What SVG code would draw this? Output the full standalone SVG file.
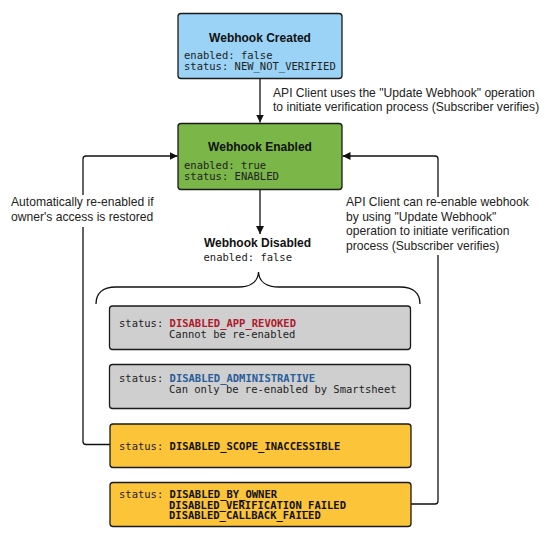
<svg xmlns="http://www.w3.org/2000/svg" width="550" height="535" viewBox="0 0 550 535">
<style>
.box{stroke:#1a1a1a;stroke-width:1.3}
.title{font-family:"Liberation Sans",Arial,sans-serif;font-weight:bold;font-size:12px;fill:#111}
.mono{font-family:"DejaVu Sans Mono","Liberation Mono",monospace;font-size:10.5px;fill:#222}
.monob{font-family:"DejaVu Sans Mono","Liberation Mono",monospace;font-size:10.5px;font-weight:bold}
.lbl{font-family:"Liberation Sans",Arial,sans-serif;font-size:12.1px;fill:#222}
.conn{fill:none;stroke:#111;stroke-width:1.3}
</style>
<defs>
<marker id="arr" viewBox="0 0 10 10" refX="10" refY="5" markerWidth="8" markerHeight="8" markerUnits="userSpaceOnUse" orient="auto">
<path d="M0,0 L10,5 L0,10 z" fill="#111"/>
</marker>
</defs>
<rect width="550" height="535" fill="#fff"/>
<g id="connectors">
<path class="conn" d="M260,78.5 V122.5" marker-end="url(#arr)"/>
<path class="conn" d="M260,189.5 V234" marker-end="url(#arr)"/>
<path class="conn" d="M110,444.5 H86 a3,3 0 0 1 -3,-3 V159 a3,3 0 0 1 3,-3 H177.5" marker-end="url(#arr)"/>
<path class="conn" d="M411,504 H435 a3,3 0 0 0 3,-3 V159 a3,3 0 0 0 -3,-3 H342.5" marker-end="url(#arr)"/>
<path class="conn" d="M96,304 C96,294 102,287 116,287 H238 C250,287 258,282 258.5,272 C259,282 267,287 279,287 H400 C414,287 420,294 420,304"/>
<rect x="8" y="195" width="150" height="32" fill="#fff"/>
<rect x="343" y="197" width="168" height="58" fill="#fff"/>
<text class="lbl" x="273" y="97">API Client uses the "Update Webhook" operation</text>
<text class="lbl" x="273" y="111">to initiate verification process (Subscriber verifies)</text>
<text class="lbl" x="11" y="206">Automatically re-enabled if</text>
<text class="lbl" x="11" y="221">owner's access is restored</text>
<text class="lbl" x="346" y="206">API Client can re-enable webhook</text>
<text class="lbl" x="346" y="220.5">by using "Update Webhook"</text>
<text class="lbl" x="346" y="235">operation to initiate verification</text>
<text class="lbl" x="346" y="250">process (Subscriber verifies)</text>
</g>
<g id="created">
<rect class="box" x="178" y="13.5" width="164" height="65" rx="3" fill="#9ad3f5"/>
<text class="title" x="260" y="42" text-anchor="middle">Webhook Created</text>
<text class="mono" x="184" y="58.5">enabled: false</text>
<text class="mono" x="184" y="69.5">status: NEW_NOT_VERIFIED</text>
</g>
<g id="enabled">
<rect class="box" x="178" y="123.5" width="164" height="66" rx="3" fill="#7ab648"/>
<text class="title" x="260" y="151" text-anchor="middle">Webhook Enabled</text>
<text class="mono" x="184" y="169">enabled: true</text>
<text class="mono" x="184" y="179.5">status: ENABLED</text>
</g>
<g id="disabled">
<text class="title" x="257.5" y="247" text-anchor="middle">Webhook Disabled</text>
<text class="mono" x="203.5" y="260.5">enabled: false</text>
</g>
<g id="app-revoked">
<rect class="box" x="109.5" y="306" width="301" height="43.5" rx="3" fill="#cfcfcf"/>
<text class="mono" x="119" y="327">status: <tspan class="monob" fill="#b0182c">DISABLED_APP_REVOKED</tspan></text>
<text class="mono" x="169" y="338">Cannot be re-enabled</text>
</g>
<g id="administrative">
<rect class="box" x="109.5" y="364.5" width="301" height="44" rx="3" fill="#cfcfcf"/>
<text class="mono" x="119" y="381.5">status: <tspan class="monob" fill="#2a5c9a">DISABLED_ADMINISTRATIVE</tspan></text>
<text class="mono" x="169" y="392.5">Can only be re-enabled by Smartsheet</text>
</g>
<g id="scope-inaccessible">
<rect class="box" x="110" y="424" width="301" height="43.5" rx="3" fill="#fcc438"/>
<text class="mono" x="119" y="449.5">status: <tspan class="monob" fill="#111">DISABLED_SCOPE_INACCESSIBLE</tspan></text>
</g>
<g id="owner-failed">
<rect class="box" x="110" y="482.5" width="301" height="44" rx="3" fill="#fcc438"/>
<text class="mono" x="119" y="498">status: <tspan class="monob" fill="#111">DISABLED_BY_OWNER</tspan></text>
<text class="monob" x="169" y="508.5" fill="#111">DISABLED_VERIFICATION_FAILED</text>
<text class="monob" x="169" y="519.3" fill="#111">DISABLED_CALLBACK_FAILED</text>
</g>
</svg>
